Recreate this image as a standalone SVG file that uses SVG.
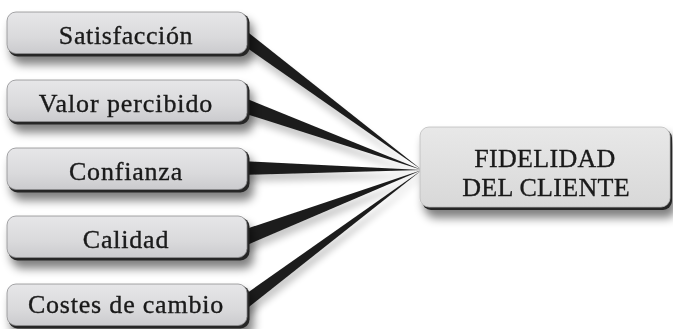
<svg xmlns="http://www.w3.org/2000/svg" width="673" height="329" viewBox="0 0 673 329">
<defs>
<linearGradient id="g" x1="0" y1="0" x2="0" y2="1">
<stop offset="0" stop-color="#e6e6e8"/>
<stop offset="0.6" stop-color="#dadadc"/>
<stop offset="1" stop-color="#cbcbce"/>
</linearGradient>
<linearGradient id="g2" x1="0" y1="0" x2="0" y2="1">
<stop offset="0" stop-color="#e8e8e8"/>
<stop offset="1" stop-color="#d8d8d8"/>
</linearGradient>
<filter id="sh" x="-10%" y="-30%" width="125%" height="190%">
<feGaussianBlur in="SourceAlpha" stdDeviation="5"/>
<feOffset dx="4" dy="8" result="b"/>
<feComponentTransfer><feFuncA type="linear" slope="0.5"/></feComponentTransfer>
<feMerge><feMergeNode/><feMergeNode in="SourceGraphic"/></feMerge>
</filter>
<filter id="wsh" x="-10%" y="-20%" width="130%" height="160%">
<feGaussianBlur in="SourceAlpha" stdDeviation="3.5"/>
<feOffset dx="2" dy="7"/>
<feComponentTransfer><feFuncA type="linear" slope="0.22"/></feComponentTransfer>
<feMerge><feMergeNode/><feMergeNode in="SourceGraphic"/></feMerge>
</filter>
</defs>
<style>
.base{fill:#262626}
.face{fill:url(#g);stroke:#8e8e90;stroke-width:0.8}
.t{font-family:"Liberation Serif","Times New Roman",serif;font-size:26px;fill:#1a1a1a;stroke:#1a1a1a;stroke-width:0.35;text-anchor:middle}
.w{fill:#1c1c1c}
</style>
<g id="connectors" filter="url(#wsh)">
<polygon class="w" points="240,26 240,43 422,170"/>
<polygon class="w" points="240,96 240,112 422,170"/>
<polygon class="w" points="240,161 240,175 422,170"/>
<polygon class="w" points="240,231 240,248 422,170"/>
<polygon class="w" points="240,298 240,314 422,170"/>
</g>
<g id="n1" filter="url(#sh)">
<rect class="base" x="8.5" y="13.5" width="241" height="43" rx="9"/>
<rect class="face" x="7" y="12" width="240" height="41.5" rx="9"/>
<text class="t" x="126" y="44" letter-spacing="0.6">Satisfacción</text>
</g>
<g id="n2" filter="url(#sh)">
<rect class="base" x="8.5" y="81.5" width="241" height="43" rx="9"/>
<rect class="face" x="7" y="80" width="240" height="41.5" rx="9"/>
<text class="t" x="126" y="112" letter-spacing="0.9">Valor percibido</text>
</g>
<g id="n3" filter="url(#sh)">
<rect class="base" x="8.5" y="149.5" width="241" height="43" rx="9"/>
<rect class="face" x="7" y="148" width="240" height="41.5" rx="9"/>
<text class="t" x="126" y="180" letter-spacing="0.8">Confianza</text>
</g>
<g id="n4" filter="url(#sh)">
<rect class="base" x="8.5" y="217.5" width="241" height="43" rx="9"/>
<rect class="face" x="7" y="216" width="240" height="41.5" rx="9"/>
<text class="t" x="126" y="248" letter-spacing="0.8">Calidad</text>
</g>
<g id="n5" filter="url(#sh)">
<rect class="base" x="8.5" y="285.5" width="241" height="43" rx="9"/>
<rect class="face" x="7" y="284" width="240" height="41.5" rx="9"/>
<text class="t" x="126" y="313" letter-spacing="0.8">Costes de cambio</text>
</g>
<g id="fidelidad" filter="url(#sh)">
<rect class="base" x="422" y="129" width="250" height="81" rx="9"/>
<rect x="420" y="127" width="250" height="80" rx="9" fill="url(#g2)" stroke="#bdbdbd" stroke-width="0.8"/>
<text class="t" x="545" y="167" letter-spacing="0.3">FIDELIDAD</text>
<text class="t" x="546" y="196" letter-spacing="0.3">DEL CLIENTE</text>
</g>
</svg>
